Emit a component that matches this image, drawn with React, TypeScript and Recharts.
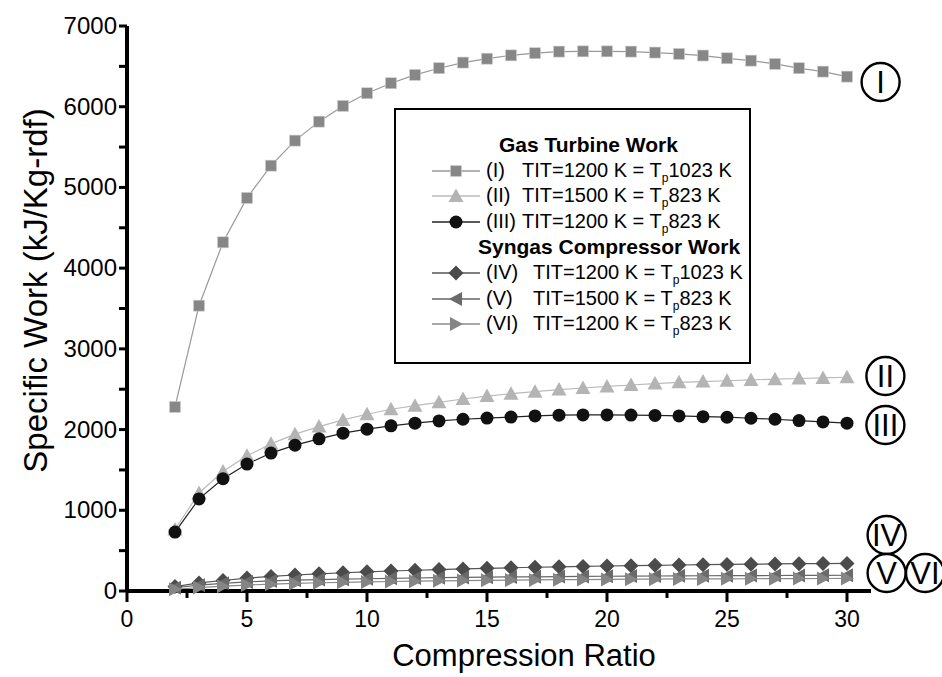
import React from "react";
import { LineChart, Line, XAxis, YAxis, Legend, ReferenceDot, Label } from "recharts";

const FONT = '"Liberation Sans", Arial, Helvetica, sans-serif';

// compression ratio on the x axis
const ratios = [2, 3, 4, 5, 6, 7, 8, 9, 10, 11, 12, 13, 14, 15, 16, 17, 18, 19, 20, 21, 22, 23, 24, 25, 26, 27, 28, 29, 30];

// gas turbine work
const workI = [2280, 3535, 4320, 4870, 5270, 5580, 5815, 6010, 6167, 6291, 6394, 6477, 6547, 6595, 6636, 6663, 6683, 6686, 6686, 6683, 6671, 6654, 6634, 6600, 6571, 6530, 6477, 6435, 6373];
const workII = [762, 1215, 1481, 1675, 1823, 1943, 2037, 2120, 2190, 2252, 2296, 2338, 2379, 2415, 2445, 2470, 2495, 2515, 2535, 2552, 2570, 2585, 2595, 2605, 2615, 2625, 2633, 2640, 2648];
const workIII = [730, 1141, 1391, 1573, 1709, 1807, 1885, 1955, 2005, 2046, 2079, 2107, 2128, 2142, 2155, 2169, 2178, 2181, 2181, 2180, 2175, 2169, 2160, 2153, 2140, 2128, 2111, 2095, 2079];

// syngas compressor work
const workIV = [55, 100, 130, 160, 180, 198, 213, 226, 237, 248, 257, 266, 274, 281, 288, 294, 300, 305, 310, 314, 318, 322, 326, 329, 332, 335, 338, 340, 342];
const workV = [40, 72, 95, 113, 125, 134, 141, 147, 152, 157, 161, 165, 168, 171, 174, 176, 179, 181, 183, 185, 186, 188, 189, 190, 191, 192, 193, 194, 195];
const workVI = [22, 42, 60, 74, 85, 94, 102, 108, 113, 118, 122, 126, 129, 132, 135, 137, 140, 142, 144, 146, 147, 149, 150, 151, 152, 153, 154, 155, 156];

const xTicks = [0, 2.5, 5, 7.5, 10, 12.5, 15, 17.5, 20, 22.5, 25, 27.5, 30];
const xMajor = [0, 5, 10, 15, 20, 25, 30];
const yTicks = [0, 500, 1000, 1500, 2000, 2500, 3000, 3500, 4000, 4500, 5000, 5500, 6000, 6500, 7000];
const yMajor = [0, 1000, 2000, 3000, 4000, 5000, 6000, 7000];

const seriesKeys = ["I", "II", "III", "IV", "V", "VI"];
const seriesValues = [workI, workII, workIII, workIV, workV, workVI];

const legendGroups = ["Gas Turbine Work", "Syngas Compressor Work"];
const legendLabels = ["(I)", "(II)", "(III)", "(IV)", "(V)", "(VI)"];
const legendTit = ["TIT=1200 K = T", "TIT=1500 K = T", "TIT=1200 K = T", "TIT=1200 K = T", "TIT=1500 K = T", "TIT=1200 K = T"];
const legendTp = ["1023 K", "823 K", "823 K", "1023 K", "823 K", "823 K"];

// circled curve names at the right end
const annoLabels = ["I", "II", "III", "IV", "V", "VI"];
const annoX = [31.4, 31.6, 31.6, 31.65, 31.65, 33.25];
const annoY = [6306, 2664, 2057, 694, 223, 223];

const styles: Record<string, { shape: string; fill: string; stroke: string }> = {
  I: { shape: "square", fill: "#878787", stroke: "#999999" },
  II: { shape: "triangle", fill: "#b4b4b4", stroke: "#bbbbbb" },
  III: { shape: "circle", fill: "#111111", stroke: "#222222" },
  IV: { shape: "diamond", fill: "#4b4b4b", stroke: "#555555" },
  V: { shape: "left", fill: "#6a6a6a", stroke: "#666666" },
  VI: { shape: "right", fill: "#858585", stroke: "#8a8a8a" },
};

const data = ratios.map((r, i) => {
  const row: Record<string, number> = { r };
  seriesKeys.forEach((k, j) => {
    row[k] = seriesValues[j][i];
  });
  return row;
});

function Marker({ shape, cx, cy, fill }: { shape: string; cx: number; cy: number; fill: string }) {
  switch (shape) {
    case "square":
      return <rect x={cx - 5.5} y={cy - 5.5} width={11} height={11} fill={fill} stroke="#cfcfcf" strokeWidth={0.6} />;
    case "triangle":
      return <polygon points={`${cx},${cy - 7.5} ${cx + 7.5},${cy + 6} ${cx - 7.5},${cy + 6}`} fill={fill} />;
    case "circle":
      return <circle cx={cx} cy={cy} r={6.5} fill={fill} />;
    case "diamond":
      return <polygon points={`${cx},${cy - 7.5} ${cx + 7.5},${cy} ${cx},${cy + 7.5} ${cx - 7.5},${cy}`} fill={fill} />;
    case "left":
      return <polygon points={`${cx - 7},${cy} ${cx + 6},${cy - 7} ${cx + 6},${cy + 7}`} fill={fill} />;
    default:
      return <polygon points={`${cx + 7},${cy} ${cx - 6},${cy - 7} ${cx - 6},${cy + 7}`} fill={fill} />;
  }
}

function XTick(props: any) {
  const { x, y, payload } = props;
  const major = xMajor.includes(payload.value);
  return (
    <g>
      <rect x={x - 1.5} y={y} width={3} height={major ? 11 : 7} fill="#000" />
      {major && (
        <text x={x} y={y + 36} textAnchor="middle" fontSize={23} fontFamily={FONT} fill="#000" stroke="none">
          {payload.value}
        </text>
      )}
    </g>
  );
}

function YTick(props: any) {
  const { x, y, payload } = props;
  const major = yMajor.includes(payload.value);
  return (
    <g>
      <rect x={x - 8} y={y - 1.5} width={8} height={3} fill="#000" />
      {major && (
        <text x={x - 10} y={y + 8} textAnchor="end" fontSize={24} fontFamily={FONT} fill="#000" stroke="none">
          {payload.value}
        </text>
      )}
    </g>
  );
}

function LegendBox() {
  const rows: React.ReactNode[] = [];
  let line = 0;
  const rowTop = (n: number) => 22 + n * 25.6;
  seriesKeys.forEach((k, i) => {
    if (i === 0 || i === 3) {
      const g = i === 0 ? 0 : 1;
      rows.push(
        <div
          key={"g" + g}
          style={{ position: "absolute", left: g === 0 ? 103 : 82, top: rowTop(line), height: 25.6, lineHeight: "25.6px", fontSize: 21, fontWeight: "bold", whiteSpace: "nowrap" }}
        >
          {legendGroups[g]}
        </div>
      );
      line++;
    }
    const s = styles[k];
    rows.push(
      <div key={k} style={{ position: "absolute", left: 0, top: rowTop(line), height: 25.6, width: "100%", fontSize: 20, whiteSpace: "nowrap" }}>
        <svg width={48} height={20} style={{ position: "absolute", left: 36, top: 3 }}>
          <line x1={0} x2={48} y1={10} y2={10} stroke={s.stroke} strokeWidth={1.5} />
          <Marker shape={s.shape} cx={24} cy={10} fill={s.fill} />
        </svg>
        <span style={{ position: "absolute", left: 90, top: 0, lineHeight: "25.6px" }}>{legendLabels[i]}</span>
        <span style={{ position: "absolute", left: i < 3 ? 126 : 137, top: 0, lineHeight: "25.6px" }}>
          {legendTit[i]}
          <span style={{ fontSize: 12, position: "relative", top: 5 }}>p</span>
          {legendTp[i]}
        </span>
      </div>
    );
    line++;
  });
  return (
    <div
      style={{
        position: "relative",
        width: 357,
        height: 256,
        border: "2px solid #000",
        boxSizing: "border-box",
        background: "#fff",
        fontFamily: FONT,
        color: "#000",
      }}
    >
      {rows}
    </div>
  );
}

const circled = (text: string) => (props: any) => (
  <g>
    <circle cx={props.cx} cy={props.cy} r={19} fill="#fff" stroke="#000" strokeWidth={2.4} />
    <text x={props.cx} y={props.cy + 11} textAnchor="middle" fontSize={31} fontFamily={FONT} fill="#000">
      {text}
    </text>
  </g>
);

export default function App() {
  return (
    <div style={{ position: "absolute", left: 0, top: 0, width: 942, height: 677, background: "#fff" }}>
      <LineChart width={942} height={677} data={data} margin={{ top: 26, right: 71, bottom: 0, left: 0 }}>
        <XAxis
          dataKey="r"
          type="number"
          domain={[0, 31]}
          ticks={xTicks}
          interval={0}
          tickSize={0}
          tickMargin={0}
          tickLine={false}
          tick={<XTick />}
          stroke="#000"
          axisLine={{ stroke: "#000", strokeWidth: 4 }}
          height={86}
        >
          <Label
            content={(p: any) => (
              <text
                x={p.viewBox.x + p.viewBox.width / 2 + 25}
                y={p.viewBox.y + 75}
                textAnchor="middle"
                fontSize={31}
                fontFamily={FONT}
                fill="#000"
              >
                Compression Ratio
              </text>
            )}
          />
        </XAxis>
        <YAxis
          type="number"
          domain={[0, 7000]}
          ticks={yTicks}
          interval={0}
          tickSize={0}
          tickMargin={0}
          tickLine={false}
          tick={<YTick />}
          stroke="#000"
          axisLine={{ stroke: "#000", strokeWidth: 4 }}
          width={127}
        >
          <Label
            content={(p: any) => {
              const cx = p.viewBox.x + 35;
              const cy = p.viewBox.y + p.viewBox.height / 2 - 18;
              return (
                <text
                  x={cx}
                  y={cy}
                  transform={`rotate(-90 ${cx} ${cy})`}
                  textAnchor="middle"
                  dominantBaseline="central"
                  fontSize={33}
                  fontFamily={FONT}
                  fill="#000"
                >
                  Specific Work (kJ/Kg-rdf)
                </text>
              );
            }}
          />
        </YAxis>
        <Legend
          layout="vertical"
          align="center"
          verticalAlign="middle"
          content={() => <LegendBox />}
          wrapperStyle={{ left: 394, top: 108, width: 357, height: 256, margin: 0, padding: 0 }}
        />
        {seriesKeys.map((k) => {
          const s = styles[k];
          return (
            <Line
              key={k}
              dataKey={k}
              type="linear"
              stroke={s.stroke}
              strokeWidth={1.2}
              isAnimationActive={false}
              activeDot={false}
              dot={(p: any) => <Marker key={`${k}-${p.index}`} shape={s.shape} cx={p.cx} cy={p.cy} fill={s.fill} />}
            />
          );
        })}
        {annoLabels.map((t, i) => (
          <ReferenceDot key={t} x={annoX[i]} y={annoY[i]} r={19} ifOverflow="visible" shape={circled(t)} />
        ))}
      </LineChart>
    </div>
  );
}
